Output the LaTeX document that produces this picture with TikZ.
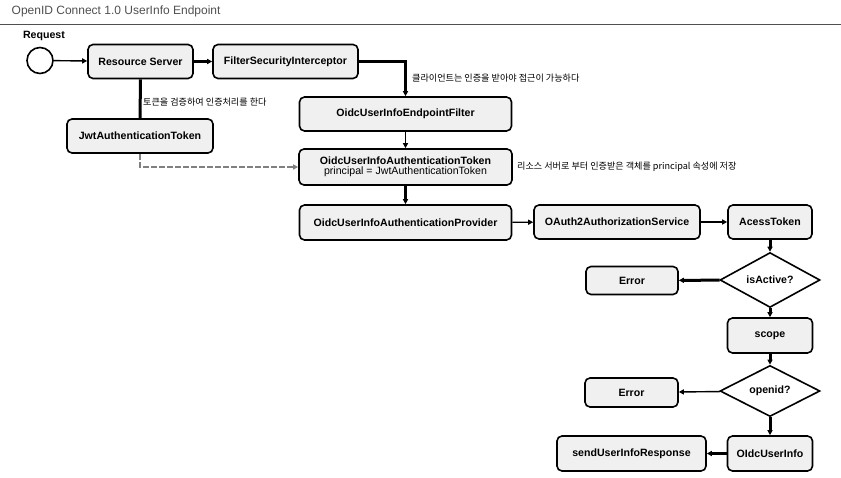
\documentclass[tikz,border=0pt]{standalone}
\usepackage{fontspec}
\setmainfont{Liberation Sans}
\newfontfamily\kr{Noto Sans CJK KR}
\usetikzlibrary{shapes.geometric,arrows.meta}
\definecolor{boxfill}{HTML}{F0F0F0}
\definecolor{titlegray}{HTML}{505050}
\definecolor{dashgray}{HTML}{808080}
\tikzset{
  box/.style={draw=black, line width=1.6pt, rounded corners=5pt, fill=boxfill,
    font=\fontsize{10.6}{11.5}\selectfont\bfseries, align=center, inner sep=2pt},
  dec/.style={draw=black, line width=1.6pt, fill=white, shape=diamond, inner sep=0pt,
    font=\fontsize{10.6}{11.5}\selectfont\bfseries},
  thick arrow/.style={line width=3pt, -{Stealth[length=5pt,width=5pt,inset=0pt]}},
  thin arrow/.style={line width=1.4pt, -{Stealth[length=5pt,width=5pt,inset=0pt]}},
  note/.style={font=\kr\fontsize{9.1}{10}\selectfont, anchor=west, inner sep=0pt}
}
\begin{document}
\begin{tikzpicture}[x=1pt,y=-1pt]
\useasboundingbox (0,0) rectangle (841,478);
\node[anchor=west, text=titlegray, font=\fontsize{12}{13}\selectfont, inner sep=0pt] (title) at (11.5,11) {OpenID Connect 1.0 UserInfo Endpoint};
\coordinate (hl) at (0,25);
\coordinate (hr) at (841,25);
\draw[titlegray, line width=1pt] (hl) -- (hr);

\node[font=\fontsize{10.6}{11.5}\selectfont\bfseries, inner sep=0pt] (reqlabel) at (44,36) {Request};
\node[draw=black, line width=1.6pt, circle, minimum size=26pt, inner sep=0pt, fill=white] (req) at (40,60.5) {};

\node[box, minimum width=105pt, minimum height=34pt] (rs) at (140.5,61.5) {Resource Server};
\node[box, minimum width=145pt, minimum height=34pt] (fsi) at (285.5,61.5) {FilterSecurityInterceptor};
\node[box, minimum width=146pt, minimum height=34pt] (jwt) at (140,136) {JwtAuthenticationToken};
\node[box, minimum width=212pt, minimum height=34pt] (ep) at (405.5,114) {OidcUserInfoEndpointFilter};
\node[box, minimum width=213pt, minimum height=36pt] (tok) at (405.5,167) {OidcUserInfoAuthenticationToken\\[-1pt]{\mdseries principal = JwtAuthenticationToken}};
\node[box, minimum width=212pt, minimum height=35pt] (prov) at (405.5,222.5) {OidcUserInfoAuthenticationProvider};
\node[box, minimum width=166pt, minimum height=34pt] (oas) at (617,222) {OAuth2AuthorizationService};
\node[box, minimum width=84pt, minimum height=34pt] (at) at (770,222) {AcessToken};
\node[dec, minimum width=100pt, minimum height=37pt] (isa) at (770,280) {isActive?};
\node[box, minimum width=92pt, minimum height=28pt] (err1) at (632,280.5) {Error};
\node[box, minimum width=85pt, minimum height=35pt] (scope) at (770,335.5) {scope};
\node[dec, minimum width=100pt, minimum height=38pt] (oid) at (770,391) {openid?};
\node[box, minimum width=93pt, minimum height=29pt] (err2) at (631.5,392.5) {Error};
\node[box, minimum width=85pt, minimum height=35pt] (oui) at (770,453.5) {OIdcUserInfo};
\node[box, minimum width=149pt, minimum height=35pt] (send) at (631.5,453.5) {sendUserInfoResponse};

\draw[thin arrow] (req) -- (rs);
\draw[thick arrow] (rs) -- (fsi);
\draw[line width=3pt] (rs) -- (jwt);
\draw[thick arrow] (fsi.east) -| (ep.north);
\draw[thin arrow] (ep) -- (tok);
\draw[dashgray, dashed, dash pattern=on 6pt off 2pt, line width=2.6pt, -{Stealth[length=5pt,width=5pt,inset=0pt]}] (jwt.south) |- (tok.west);
\draw[thick arrow] (tok) -- (prov);
\draw[thin arrow] (prov) -- (oas);
\draw[thin arrow] (oas) -- (at);
\draw[thick arrow] (at) -- (isa);
\draw[thick arrow] (isa) -- (err1);
\draw[thick arrow] (isa) -- (scope);
\draw[thick arrow] (scope) -- (oid);
\draw[thin arrow] (oid) -- (err2);
\draw[thick arrow] (oid) -- (oui);
\draw[thick arrow] (oui) -- (send);

\node[note] (n1) at (412,78) {클라이언트는 인증을 받아야 접근이 가능하다};
\node[note] (n2) at (143,102) {토큰을 검증하여 인증처리를 한다};
\node[note] (n3) at (517,167) {리소스 서버로 부터 인증받은 객체를 principal 속성에 저장};
\end{tikzpicture}
\end{document}
